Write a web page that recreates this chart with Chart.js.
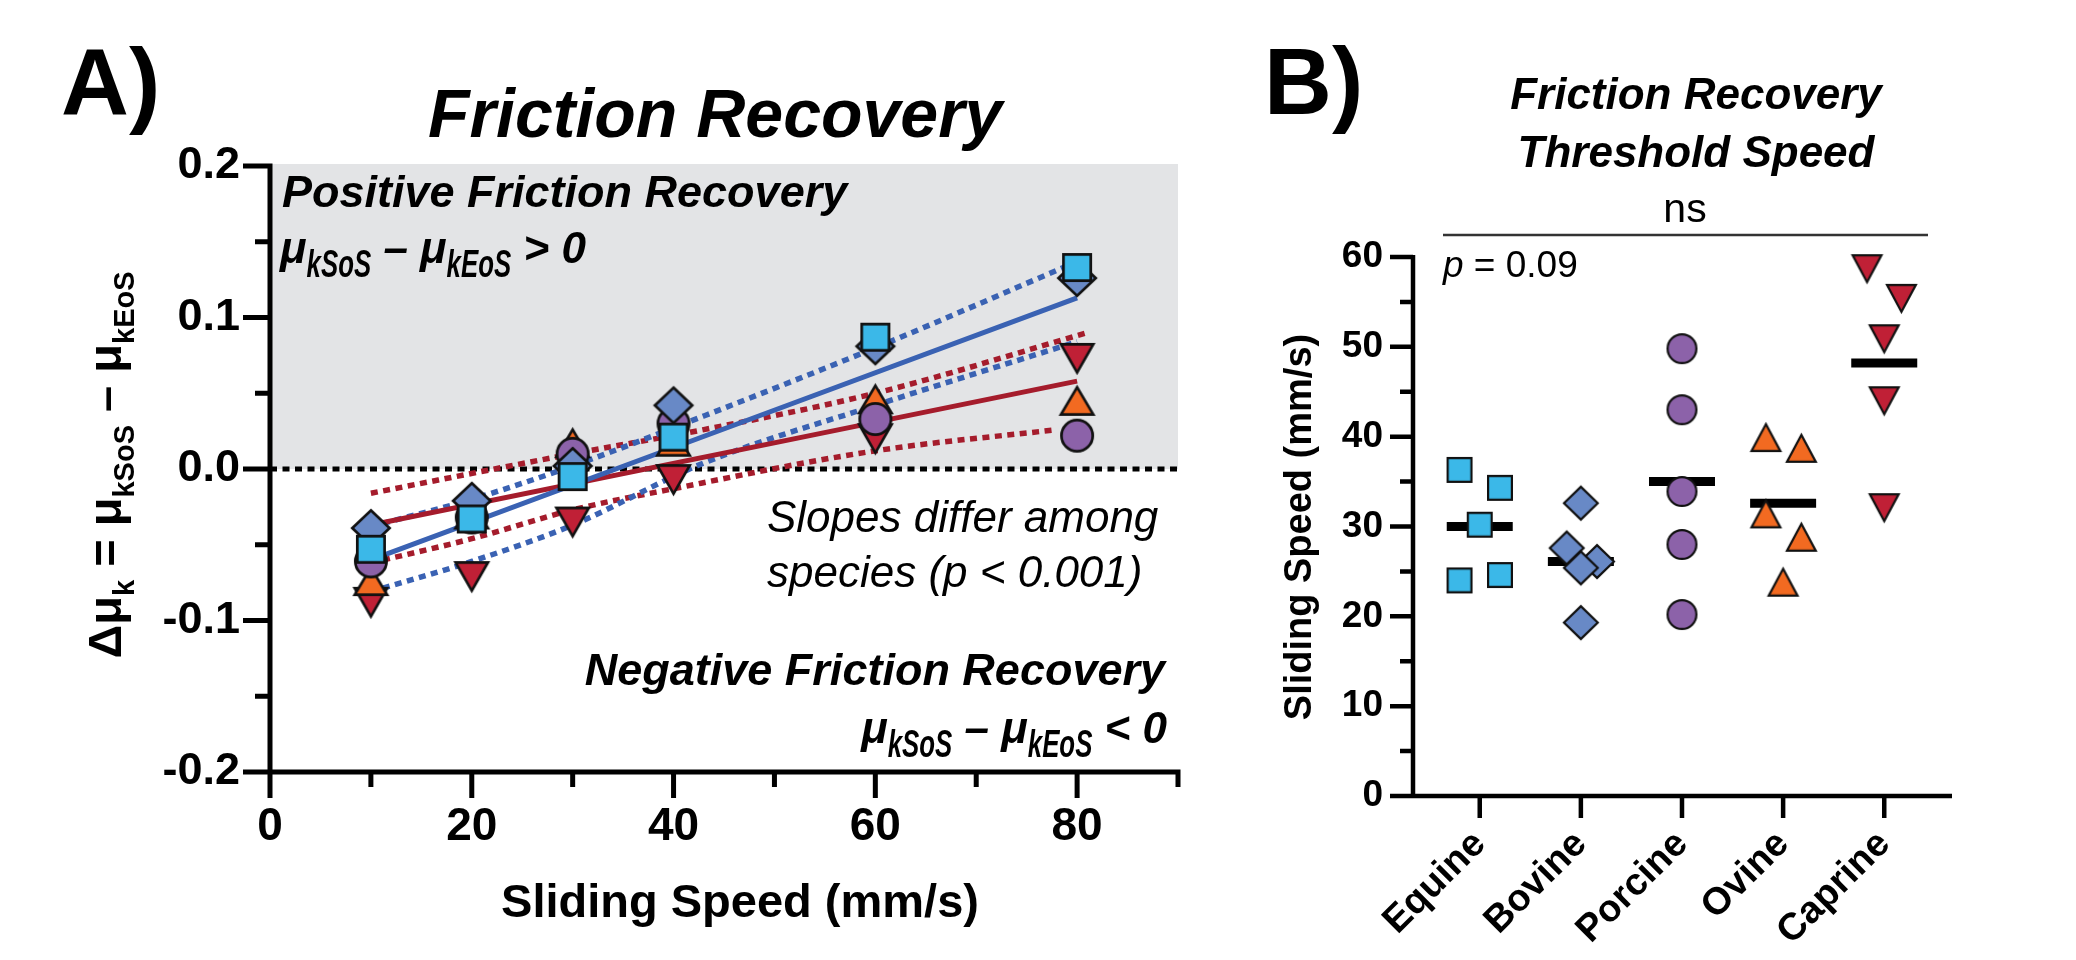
<!DOCTYPE html>
<html><head><meta charset="utf-8">
<script src="https://cdn.jsdelivr.net/npm/chart.js@4/dist/chart.umd.min.js"></script>
<style>
html,body{margin:0;padding:0;background:#fff;}
#wrap{position:relative;width:2076px;height:960px;overflow:hidden;background:#fff;}
#cA{position:absolute;left:0;top:0;}
#cB{position:absolute;left:1250px;top:0;}
</style></head><body>
<div id="wrap"><canvas id="cA" width="1250" height="960"></canvas><canvas id="cB" width="826" height="960"></canvas></div>
<script>
// ---------------- Panel A data ----------------
const speeds = [10, 20, 30, 40, 60, 80];
const equineA  = [-0.053, -0.033, -0.005, 0.021, 0.087, 0.133];
const bovineA  = [-0.039, -0.021, 0.002, 0.042, 0.081, 0.126];
const porcineA = [-0.061, -0.032, 0.010, 0.030, 0.033, 0.022];
const ovineA   = [-0.074, -0.030, 0.017, 0.018, 0.046, 0.045];
const caprineA = [-0.088, -0.071, -0.035, -0.007, 0.020, 0.073];

const blueFitX = [10, 80];
const blueFitY = [-0.060, 0.113];
const redFitX = [10, 80];
const redFitY = [-0.037, 0.058];
const blueUpperX = [10, 20, 30, 43, 60, 79];
const blueUpperY = [-0.038, -0.020, 0.002, 0.035, 0.080, 0.134];
const blueLowerX = [10, 20, 30, 43, 60, 80];
const blueLowerY = [-0.081, -0.061, -0.037, 0.004, 0.042, 0.084];
const redUpperX = [10, 30, 43, 60, 81];
const redUpperY = [-0.016, 0.010, 0.026, 0.050, 0.090];
const redLowerX = [10, 20, 30, 40, 60, 78];
const redLowerY = [-0.062, -0.046, -0.027, -0.013, 0.012, 0.026];
const zeroX = [0, 90];
const zeroY = [0, 0];

const xTicksA = [0, 10, 20, 30, 40, 50, 60, 70, 80, 90];
const xTickLabelsA = ['0', '', '20', '', '40', '', '60', '', '80', ''];
const yTicksA = [-0.2, -0.15, -0.1, -0.05, 0, 0.05, 0.1, 0.15, 0.2];
const yTickLabelsA = ['-0.2', '', '-0.1', '', '0.0', '', '0.1', '', '0.2'];

// ---------------- Panel B data ----------------
const categories = ['Equine', 'Bovine', 'Porcine', 'Ovine', 'Caprine'];
const equineB  = [36.3, 34.3, 30.2, 24.0, 24.6];
const equineJ  = [-0.2, 0.2, 0, -0.2, 0.2];
const bovineB  = [32.6, 27.6, 26.1, 25.4, 19.3];
const bovineJ  = [0, -0.14, 0.16, 0, 0];
const porcineB = [49.8, 43.0, 33.9, 28.0, 20.2];
const porcineJ = [0, 0, 0, 0, 0];
const ovineB   = [39.9, 38.7, 31.4, 28.8, 23.8];
const ovineJ   = [-0.17, 0.18, -0.17, 0.18, 0];
const caprineB = [58.7, 55.4, 50.9, 44.0, 32.1];
const caprineJ = [-0.17, 0.17, 0, 0, 0];
const meansB   = [30.0, 26.1, 35.0, 32.6, 48.2];

const xTicksB = [0, 1, 2, 3, 4];
const yTicksB = [0, 5, 10, 15, 20, 25, 30, 35, 40, 45, 50, 55, 60];
const yTickLabelsB = ['0', '', '10', '', '20', '', '30', '', '40', '', '50', '', '60'];

// ---------------- styles ----------------
const FONT = '"Liberation Sans", Arial, Helvetica, sans-serif';
Chart.defaults.font.family = FONT;
Chart.defaults.color = '#000';
const C_EQ = '#3bb8e8', C_BO = '#6889c6', C_PO = '#8c62a9', C_OV = '#f26a21', C_CA = '#c02036';
const BLUE = '#3a62b3', RED = '#a51c2c';

function marker(shape, w, h, fill, lw) {
  const pad = Math.ceil(lw * 2);
  const c = document.createElement('canvas');
  c.width = Math.round(w + 2 * pad); c.height = Math.round(h + 2 * pad);
  const g = c.getContext('2d');
  const cx = c.width / 2, cy = c.height / 2;
  const hw = w / 2 - lw / 2, hh = h / 2 - lw / 2;
  g.beginPath();
  if (shape === 'square') g.rect(cx - hw, cy - hh, 2 * hw, 2 * hh);
  else if (shape === 'diamond') { g.moveTo(cx, cy - hh); g.lineTo(cx + hw, cy); g.lineTo(cx, cy + hh); g.lineTo(cx - hw, cy); g.closePath(); }
  else if (shape === 'circle') g.arc(cx, cy, hw, 0, Math.PI * 2);
  else if (shape === 'up') { g.moveTo(cx, cy - hh); g.lineTo(cx + hw, cy + hh); g.lineTo(cx - hw, cy + hh); g.closePath(); }
  else if (shape === 'down') { g.moveTo(cx - hw, cy - hh); g.lineTo(cx + hw, cy - hh); g.lineTo(cx, cy + hh); g.closePath(); }
  g.fillStyle = fill; g.fill();
  g.lineWidth = lw; g.lineJoin = 'miter'; g.strokeStyle = '#111'; g.stroke();
  return c;
}

function pts(xs, ys) { return xs.map((x, i) => ({ x: x, y: ys[i] })); }
function jpts(ci, ys, js) { return ys.map((y, i) => ({ x: ci + js[i], y: y })); }

function drawRich(ctx, x, y, parts, align) {
  let total = 0;
  for (const p of parts) { ctx.font = p.font; p.w = ctx.measureText(p.t).width * (p.sx || 1); total += p.w; }
  let cx = align === 'right' ? x - total : (align === 'center' ? x - total / 2 : x);
  for (const p of parts) {
    ctx.save(); ctx.font = p.font; ctx.textAlign = 'left'; ctx.textBaseline = 'alphabetic';
    ctx.translate(cx, y + (p.dy || 0)); ctx.scale(p.sx || 1, 1); ctx.fillText(p.t, 0, 0); ctx.restore();
    cx += p.w;
  }
}

const BI = (s) => 'italic bold ' + s + 'px ' + FONT;
const B = (s) => 'bold ' + s + 'px ' + FONT;
const I = (s) => 'italic ' + s + 'px ' + FONT;
const R = (s) => s + 'px ' + FONT;

function muExpr(sign) {
  return [
    { t: 'μ', font: BI(44) },
    { t: 'kSoS', font: BI(38), sx: 0.68, dy: 14 },
    { t: ' – μ', font: BI(44) },
    { t: 'kEoS', font: BI(38), sx: 0.68, dy: 14 },
    { t: ' ' + sign + ' 0', font: BI(44) }
  ];
}

// ---------------- Panel A ----------------
const panelAPlugin = {
  id: 'panelA',
  beforeDatasetsDraw(chart) {
    const { ctx, scales: { x, y } } = chart;
    ctx.save();
    ctx.fillStyle = '#e3e4e6';
    const x0 = x.getPixelForValue(0), x1 = x.getPixelForValue(90);
    const y0 = y.getPixelForValue(0), y1 = y.getPixelForValue(0.2);
    ctx.fillRect(x0, y1 - 2, x1 - x0, y0 - y1 + 2);
    ctx.restore();
  },
  afterDatasetsDraw(chart) {
    const { ctx, chartArea: ca, scales: { x, y } } = chart;
    ctx.save();
    ctx.strokeStyle = '#000'; ctx.lineWidth = 5; ctx.lineCap = 'butt';
    ctx.beginPath();
    ctx.moveTo(ca.left, ca.top - 2.5); ctx.lineTo(ca.left, ca.bottom + 2.5);
    ctx.moveTo(ca.left - 2.5, ca.bottom); ctx.lineTo(ca.right + 2.5, ca.bottom);
    yTicksA.forEach((v, i) => { const py = y.getPixelForValue(v); const len = yTickLabelsA[i] ? 27 : 15; ctx.moveTo(ca.left, py); ctx.lineTo(ca.left - len, py); });
    xTicksA.forEach((v, i) => { const px = x.getPixelForValue(v); const len = xTickLabelsA[i] ? 26 : 15; ctx.moveTo(px, ca.bottom); ctx.lineTo(px, ca.bottom + len); });
    ctx.stroke();
    ctx.restore();
  },
  afterDraw(chart) {
    const ctx = chart.ctx;
    ctx.save();
    ctx.fillStyle = '#000'; ctx.textBaseline = 'alphabetic'; ctx.textAlign = 'left';
    ctx.font = B(94); ctx.fillText('A)', 61, 115);
    ctx.font = BI(68); ctx.fillText('Friction Recovery', 428, 137);
    ctx.font = BI(45); ctx.fillText('Positive Friction Recovery', 282, 207);
    drawRich(ctx, 280, 263, muExpr('>'), 'left');
    ctx.font = I(44); ctx.textAlign = 'left';
    ctx.fillText('Slopes differ among', 767, 532);
    ctx.fillText('species (p < 0.001)', 767, 587);
    ctx.font = BI(45); ctx.textAlign = 'right';
    ctx.fillText('Negative Friction Recovery', 1165, 685);
    drawRich(ctx, 1167, 743, muExpr('<'), 'right');
    // x title
    ctx.font = B(47); ctx.textAlign = 'center';
    ctx.fillText('Sliding Speed (mm/s)', 740, 917);
    // y title (rotated)
    ctx.save();
    ctx.translate(121, 465); ctx.rotate(-Math.PI / 2);
    drawRich(ctx, 0, 0, [
      { t: 'Δμ', font: B(47) },
      { t: 'k', font: B(29), dy: 13 },
      { t: ' = μ', font: B(47) },
      { t: 'kSoS', font: B(29), dy: 13 },
      { t: ' – μ', font: B(47) },
      { t: 'kEoS', font: B(29), dy: 13 }
    ], 'center');
    ctx.restore();
    ctx.restore();
  }
};

const lineDS = (xs, ys, color, dashed, order) => ({
  data: pts(xs, ys), showLine: true, borderColor: color, borderWidth: dashed ? 5.5 : 5,
  borderDash: dashed ? [7, 5.5] : [], pointRadius: 0, tension: dashed ? 0.4 : 0,
  cubicInterpolationMode: 'monotone', order: order, fill: false
});
const ptDS = (xs, ys, style, order) => ({
  data: pts(xs, ys), showLine: false, pointStyle: style, pointRadius: 17, order: order, clip: false
});

new Chart(document.getElementById('cA'), {
  type: 'scatter',
  data: {
    datasets: [
      Object.assign(lineDS(zeroX, zeroY, '#000', true, 20), { borderWidth: 5, borderDash: [7, 5.5], tension: 0 }),
      lineDS(redUpperX, redUpperY, RED, true, 13),
      lineDS(redLowerX, redLowerY, RED, true, 13),
      lineDS(blueUpperX, blueUpperY, BLUE, true, 12),
      lineDS(blueLowerX, blueLowerY, BLUE, true, 12),
      lineDS(redFitX, redFitY, RED, false, 11),
      lineDS(blueFitX, blueFitY, BLUE, false, 10),
      ptDS(speeds, caprineA, marker('down', 35, 31, C_CA, 2.7), 5),
      ptDS(speeds, ovineA, marker('up', 35, 30, C_OV, 2.7), 4),
      ptDS(speeds, porcineA, marker('circle', 34, 34, C_PO, 2.7), 3),
      ptDS(speeds, bovineA, marker('diamond', 40, 38, C_BO, 2.7), 2),
      ptDS(speeds, equineA, marker('square', 30, 29, C_EQ, 2.7), 1)
    ]
  },
  options: {
    responsive: false, animation: false, events: [], devicePixelRatio: 1,
    layout: { padding: { left: 0, right: 1250 - 1178, top: 166, bottom: 0 } },
    plugins: { legend: { display: false }, tooltip: { enabled: false }, title: { display: false } },
    scales: {
      x: {
        type: 'linear', position: 'bottom', min: 0, max: 90,
        afterBuildTicks: s => { s.ticks = xTicksA.map(v => ({ value: v })); },
        afterFit: s => { s.height = 960 - 772; },
        ticks: { autoSkip: false, maxRotation: 0, minRotation: 0, padding: 2, color: '#000',
          font: { size: 46, weight: 'bold' }, callback: (v, i) => xTickLabelsA[i] },
        grid: { drawOnChartArea: false, drawTicks: true, tickLength: 26, color: 'rgba(0,0,0,0)' },
        border: { display: false }
      },
      y: {
        type: 'linear', position: 'left', min: -0.2, max: 0.2,
        afterBuildTicks: s => { s.ticks = yTicksA.map(v => ({ value: v })); },
        afterFit: s => { s.width = 270; },
        ticks: { autoSkip: false, padding: 3, color: '#000',
          font: { size: 45, weight: 'bold' }, callback: (v, i) => yTickLabelsA[i] },
        grid: { drawOnChartArea: false, drawTicks: true, tickLength: 27, color: 'rgba(0,0,0,0)' },
        border: { display: false }
      }
    }
  },
  plugins: [panelAPlugin]
});

// ---------------- Panel B ----------------
const panelBPlugin = {
  id: 'panelB',
  afterDatasetsDraw(chart) {
    const { ctx, chartArea: ca, scales: { x, y } } = chart;
    ctx.save();
    ctx.strokeStyle = '#000'; ctx.lineWidth = 4.5; ctx.lineCap = 'butt';
    ctx.beginPath();
    ctx.moveTo(ca.left, ca.top - 2); ctx.lineTo(ca.left, ca.bottom + 2.25);
    ctx.moveTo(ca.left - 2.25, ca.bottom); ctx.lineTo(ca.right, ca.bottom);
    yTicksB.forEach((v, i) => { const py = y.getPixelForValue(v); const len = yTickLabelsB[i] ? 23 : 13; ctx.moveTo(ca.left, py); ctx.lineTo(ca.left - len, py); });
    xTicksB.forEach(v => { const px = x.getPixelForValue(v); ctx.moveTo(px, ca.bottom); ctx.lineTo(px, ca.bottom + 22); });
    ctx.stroke();
    ctx.restore();
  },
  afterDraw(chart) {
    const ctx = chart.ctx;
    ctx.save();
    ctx.fillStyle = '#000'; ctx.textBaseline = 'alphabetic'; ctx.textAlign = 'left';
    ctx.font = B(94); ctx.fillText('B)', 14, 114);
    ctx.font = BI(44); ctx.textAlign = 'center';
    ctx.fillText('Friction Recovery', 446, 109);
    ctx.fillText('Threshold Speed', 446, 167);
    ctx.font = R(41); ctx.fillText('ns', 435, 222);
    ctx.strokeStyle = '#333'; ctx.lineWidth = 2.5;
    ctx.beginPath(); ctx.moveTo(193, 235); ctx.lineTo(678, 235); ctx.stroke();
    drawRich(ctx, 193, 277, [
      { t: 'p', font: I(37) },
      { t: ' = 0.09', font: R(37) }
    ], 'left');
    ctx.save();
    ctx.translate(61, 527); ctx.rotate(-Math.PI / 2);
    ctx.font = B(38); ctx.textAlign = 'center'; ctx.textBaseline = 'alphabetic';
    ctx.fillText('Sliding Speed (mm/s)', 0, 0);
    ctx.restore();
    ctx.restore();
  }
};

const bDS = (ci, ys, js, style, order) => ({
  data: jpts(ci, ys, js), showLine: false, pointStyle: style, pointRadius: 16, order: order, clip: false
});

new Chart(document.getElementById('cB'), {
  type: 'scatter',
  data: {
    datasets: [
      { data: meansB.map((m, i) => ({ x: i, y: m })), showLine: false, pointStyle: 'line', pointRadius: 33,
        pointBorderWidth: 9, pointBorderColor: '#000', pointBackgroundColor: '#000', order: 10, clip: false },
      bDS(0, equineB, equineJ, marker('square', 26, 26, C_EQ, 2.2), 5),
      bDS(1, bovineB, bovineJ, marker('diamond', 36, 35, C_BO, 2.2), 4),
      bDS(2, porcineB, porcineJ, marker('circle', 31, 31, C_PO, 2.2), 3),
      bDS(3, ovineB, ovineJ, marker('up', 31, 29, C_OV, 2.2), 2),
      bDS(4, caprineB, caprineJ, marker('down', 31, 29, C_CA, 2.2), 1)
    ]
  },
  options: {
    responsive: false, animation: false, events: [], devicePixelRatio: 1,
    layout: { padding: { left: 0, right: 826 - 702, top: 257, bottom: 0 } },
    plugins: { legend: { display: false }, tooltip: { enabled: false }, title: { display: false } },
    scales: {
      x: {
        type: 'linear', position: 'bottom', min: -0.66, max: 4.67,
        afterBuildTicks: s => { s.ticks = xTicksB.map(v => ({ value: v })); },
        afterFit: s => { s.height = 960 - 796; },
        ticks: { autoSkip: false, maxRotation: 45, minRotation: 45, padding: 4, color: '#000',
          font: { size: 38, weight: 'bold' }, callback: (v, i) => categories[i] },
        grid: { drawOnChartArea: false, drawTicks: true, tickLength: 22, color: 'rgba(0,0,0,0)' },
        border: { display: false }
      },
      y: {
        type: 'linear', position: 'left', min: 0, max: 60,
        afterBuildTicks: s => { s.ticks = yTicksB.map(v => ({ value: v })); },
        afterFit: s => { s.width = 163; },
        ticks: { autoSkip: false, padding: 7, color: '#000',
          font: { size: 37, weight: 'bold' }, callback: (v, i) => yTickLabelsB[i] },
        grid: { drawOnChartArea: false, drawTicks: true, tickLength: 23, color: 'rgba(0,0,0,0)' },
        border: { display: false }
      }
    }
  },
  plugins: [panelBPlugin]
});
</script>
</body></html>
